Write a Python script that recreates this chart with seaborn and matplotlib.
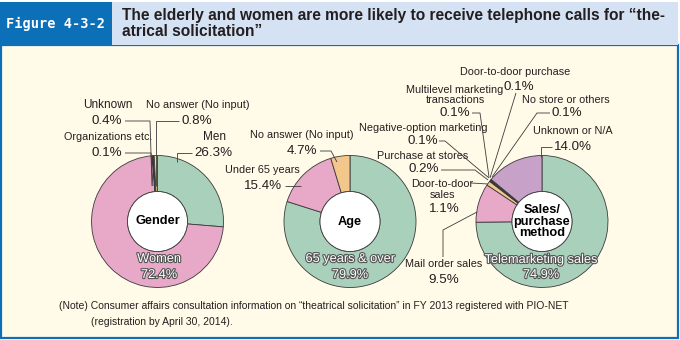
import matplotlib
matplotlib.use("Agg")
import matplotlib.pyplot as plt
import matplotlib.patches as mpatches
import matplotlib.patheffects as pe
import seaborn as sns

# ---------------- data ----------------
gender_labels = ["Men", "Women", "Organizations etc.", "Unknown", "No answer (No input)"]
gender_values = [26.3, 72.4, 0.1, 0.4, 0.8]

age_labels = ["65 years & over", "Under 65 years", "No answer (No input)"]
age_values = [79.9, 15.4, 4.7]

sales_labels = ["Telemarketing sales", "Mail order sales", "Door-to-door\nsales",
                "Purchase at stores", "Negative-option marketing",
                "Multilevel marketing\ntransactions", "Door-to-door purchase",
                "No store or others", "Unknown or N/A"]
sales_values = [74.9, 9.5, 1.1, 0.2, 0.1, 0.1, 0.1, 0.1, 14.0]

title_text = "The elderly and women are more likely to receive telephone calls for \u201cthe-\natrical solicitation\u201d"
fig_label = "Figure 4-3-2"
note_line1 = "(Note) Consumer affairs consultation information on \u201ctheatrical solicitation\u201d in FY 2013 registered with PIO-NET"
note_line2 = "(registration by April 30, 2014)."

# ---------------- style ----------------
sns.set_theme(style="white")
plt.rcParams["font.family"] = ["Liberation Sans", "DejaVu Sans"]

GREEN = "#a9d0bb"
PINK = "#e8a8c7"
PEACH = "#f3c78c"
PURPLE = "#c8a1c9"
DARK = "#3a3a3a"
YELLOW_SLIVER = "#f2e27e"
BLUE = "#0b70b8"
LIGHTBLUE = "#d5e2f3"
PANEL = "#fffbe8"
TXT = "#231f20"

NAME_FONT = ["Liberation Sans Narrow", "Liberation Sans", "DejaVu Sans"]
NUM_FONT = ["Liberation Sans", "DejaVu Sans"]

fig = plt.figure(figsize=(6.8, 3.4), dpi=100)
fig.patch.set_facecolor("white")
ax = fig.add_axes([0, 0, 1, 1])

R_OUT, R_IN = 66, 30
CY = 221.5
centers = {"gender": (157.5, CY), "age": (350, CY), "sales": (542, CY)}

wp = dict(width=R_OUT - R_IN, edgecolor=DARK, linewidth=0.6)

gender_colors = [GREEN, PINK, DARK, DARK, YELLOW_SLIVER]
age_colors = [GREEN, PINK, PEACH]
sales_colors = [GREEN, PINK, PEACH, DARK, DARK, DARK, DARK, DARK, PURPLE]

for vals, cols, key in [(gender_values, gender_colors, "gender"),
                        (age_values, age_colors, "age"),
                        (sales_values, sales_colors, "sales")]:
    ax.pie(vals, colors=cols, center=centers[key], radius=R_OUT,
           startangle=-90, counterclock=True, wedgeprops=wp)
    ax.add_patch(mpatches.Circle(centers[key], R_IN, facecolor="white",
                                 edgecolor=DARK, linewidth=0.6, zorder=3))

ax.set_xlim(0, 680)
ax.set_ylim(340, 0)
ax.set_aspect("equal")
ax.axis("off")

# ---------------- frame / header ----------------
ax.add_patch(mpatches.Rectangle((1, 45), 677, 292.5, facecolor=PANEL,
                                edgecolor=BLUE, linewidth=1.6, zorder=-2))
ax.add_patch(mpatches.Rectangle((0, 1.5), 112, 43.5, facecolor=BLUE,
                                edgecolor="none", zorder=-1))
ax.add_patch(mpatches.Rectangle((112, 1.5), 566, 43.5, facecolor=LIGHTBLUE,
                                edgecolor="none", zorder=-1))
ax.text(56, 24, fig_label, color="white", fontsize=9.8, fontweight="bold",
        family=["DejaVu Sans Mono"], ha="center", va="center")
ax.text(122, 23.5, title_text, color=TXT, fontsize=11.2, fontweight="bold",
        family=NUM_FONT, ha="left", va="center", linespacing=1.1)

ax.text(59, 306, note_line1, color=TXT, fontsize=7.45, family=NAME_FONT,
        ha="left", va="center")
ax.text(91, 322, note_line2, color=TXT, fontsize=7.45, family=NAME_FONT,
        ha="left", va="center")


def name(x, y, s, size=7.8):
    ax.text(x, y, s, color=TXT, fontsize=size, family=NAME_FONT,
            ha="center", va="center", linespacing=1.05)


def num(x, y, v):
    ax.text(x, y, f"{v:.1f}%", color=TXT, fontsize=9.6, family=NUM_FONT,
            ha="center", va="center")


def line(xs, ys):
    ax.plot(xs, ys, color=DARK, linewidth=0.6, zorder=4,
            solid_capstyle="butt")


def inner(x, y, s, size=9.2):
    ax.text(x, y, s, color="white", fontsize=size, family=NAME_FONT,
            ha="center", va="center",
            path_effects=[pe.withStroke(linewidth=1.6, foreground="#555555")],
            zorder=5)


def center_lab(key, s):
    cx, cy = centers[key]
    ax.text(cx, cy, s, color="black", fontsize=9.2, fontweight="bold",
            family=NUM_FONT, ha="center", va="center", zorder=6,
            linespacing=0.95)

# ---------------- Gender ----------------
center_lab("gender", "Gender")
inner(159, 259, gender_labels[1])
inner(159, 275, f"{gender_values[1]:.1f}%")
name(214, 137, gender_labels[0], 8.5); num(213, 153, gender_values[0])
line([192, 177, 177], [153, 153, 162])
name(108, 105, gender_labels[3], 8.5); num(107, 121, gender_values[3])
line([125, 150, 152], [121, 121, 186])
name(198, 105, gender_labels[4]); num(197, 121, gender_values[4])
line([179, 156, 156], [121, 121, 186])
name(108, 137, gender_labels[2]); num(107, 153, gender_values[2])
line([125, 151, 153], [153, 153, 186])

# ---------------- Age ----------------
center_lab("age", "Age")
inner(350, 259, age_labels[0])
inner(350, 275, f"{age_values[0]:.1f}%")
name(302, 135, age_labels[2]); num(302, 151, age_values[2])
line([320, 331, 337], [151, 151, 162])
name(262, 170, age_labels[1]); num(263, 186, age_values[1])
line([285, 301], [186, 186])

# ---------------- Sales ----------------
center_lab("sales", "Sales/\npurchase\nmethod")
inner(541, 260, sales_labels[0])
inner(541, 275, f"{sales_values[0]:.1f}%")
name(515, 72, sales_labels[6]); num(519, 87, sales_values[6])
line([516, 490], [93, 178])
name(455, 95, sales_labels[5]); num(455, 113, sales_values[5])
line([472, 480, 489], [113, 113, 177])
name(423, 128, sales_labels[4]); num(423, 141, sales_values[4])
line([439, 445, 489], [141, 141, 178])
name(423, 156, sales_labels[3]); num(424, 169, sales_values[3])
line([441, 475, 488], [170, 170, 180])
name(442, 189.5, sales_labels[2]); num(444, 209, sales_values[2])
line([471, 488], [183, 184])
name(444, 264, sales_labels[1]); num(444, 280, sales_values[1])
line([443, 443, 477], [257, 230, 212])
name(566, 100, sales_labels[7]); num(567, 113, sales_values[7])
line([550, 537, 492], [113, 113, 177])
name(573, 131, sales_labels[8]); num(573, 147, sales_values[8])
line([552, 541, 541], [147, 147, 157])

fig.savefig("out.png", dpi=100, facecolor=fig.get_facecolor())
